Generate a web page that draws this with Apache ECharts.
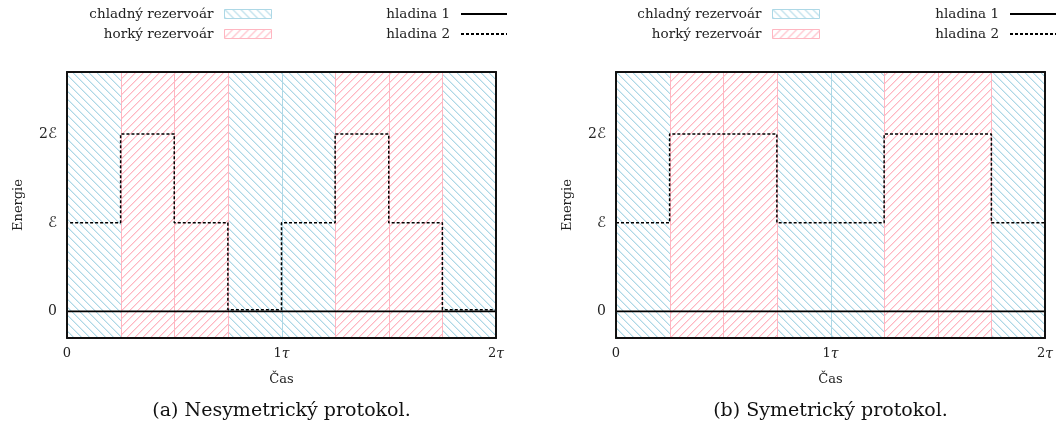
<!DOCTYPE html>
<html>
<head>
<meta charset="utf-8">
<script src="https://cdn.jsdelivr.net/npm/echarts@6/dist/echarts.min.js"></script>
<style>html,body{margin:0;padding:0;background:#fff}#c{width:1064px;height:434px}</style>
</head>
<body>
<div id="c"></div>
<script>
// ---- data ----
const SEG_EDGES = [0, 0.25, 0.5, 0.75, 1, 1.25, 1.5, 1.75, 2];
const LEFT_RESERVOIR = ['c', 'h', 'h', 'c', 'c', 'h', 'h', 'c'];
const RIGHT_RESERVOIR = ['c', 'h', 'h', 'c', 'c', 'h', 'h', 'c'];
const LEFT_LEVEL2 = [1, 2, 1, 0.02, 1, 2, 1, 0.02];
const LEFT_LEVEL2_START = 0.02;
const RIGHT_LEVEL2 = [1, 2, 2, 1, 1, 2, 2, 1];
const LEVEL1 = [0, 0];
const X_TICKS = [0, 1, 2];
const X_TICK_LABELS = ['0', '1τ', '2τ'];
const Y_TICKS = [0, 1, 2];
const Y_TICK_LABELS = ['0', 'ℰ', '2ℰ'];
const NAMES = { cold: 'chladný rezervoár', hot: 'horký rezervoár', l1: 'hladina 1', l2: 'hladina 2' };
const TITLES = ['(a) Nesymetrický protokol.', '(b) Symetrický protokol.'];

// ---- styles ----
const COLD = '#add8e6';
const HOT = '#ffb6c1';
const FONT = 'DejaVu Serif';
const TXT = '#222';

function hatch(color, dir) {
  const s = 8;
  const cv = document.createElement('canvas');
  cv.width = s; cv.height = s;
  const ctx = cv.getContext('2d');
  ctx.fillStyle = color;
  for (let i = 0; i < s; i++) {
    const y = dir === 'down' ? i : s - 1 - i;
    ctx.globalAlpha = 1;
    ctx.fillRect(i, y, 1, 1);
    ctx.globalAlpha = 0.45;
    ctx.fillRect((i + 1) % s, y, 1, 1);
  }
  return { image: cv, repeat: 'repeat' };
}
const COLD_PAT = hatch(COLD, 'down');
const HOT_PAT = hatch(HOT, 'up');

function segData(res, type) {
  const out = [];
  res.forEach((r, i) => { if (r === type) out.push([SEG_EDGES[i], SEG_EDGES[i + 1]]); });
  return out;
}
function stepData(levels, start) {
  const d = [];
  if (start !== undefined) d.push([SEG_EDGES[0], start]);
  levels.forEach((v, i) => d.push([SEG_EDGES[i], v]));
  d.push([SEG_EDGES[SEG_EDGES.length - 1], levels[levels.length - 1]]);
  return d;
}

function renderSeg(pat, col) {
  return function (params, api) {
    const cs = params.coordSys;
    const a = Math.round(api.coord([api.value(0), 0])[0]) + 0.5;
    const b = Math.round(api.coord([api.value(1), 0])[0]) + 0.5;
    return {
      type: 'group',
      children: [
        { type: 'rect', shape: { x: a, y: cs.y, width: b - a, height: cs.height }, style: { fill: pat } },
        { type: 'line', shape: { x1: a, y1: cs.y, x2: a, y2: cs.y + cs.height }, style: { stroke: col, lineWidth: 1 } },
        { type: 'line', shape: { x1: b, y1: cs.y, x2: b, y2: cs.y + cs.height }, style: { stroke: col, lineWidth: 1 } }
      ]
    };
  };
}

const SYM_RICH = {
  s: { fontFamily: 'DejaVu Serif', fontStyle: 'italic', fontSize: 14, color: TXT },
  e: { fontFamily: 'DejaVu Sans', fontStyle: 'italic', fontSize: 15, color: TXT }
};
function richLabel(txt) {
  return txt.replace(/τ/g, '{s|τ}').replace(/ℰ/g, '{e|ℰ}');
}

const grids = [
  { left: 67, top: 72, width: 429, height: 266 },
  { left: 616, top: 72, width: 429, height: 266 }
];

const xAxis = [], yAxis = [], series = [];
const axisLine = { show: true, onZero: false, lineStyle: { color: '#111', width: 2 } };
[0, 1].forEach(g => {
  xAxis.push({
    gridIndex: g, type: 'value', min: 0, max: 2, z: 10,
    name: 'Čas', nameLocation: 'middle', nameGap: 35,
    nameTextStyle: { fontFamily: FONT, fontSize: 13, color: TXT },
    axisLine, axisTick: { show: false }, splitLine: { show: false },
    axisLabel: { customValues: X_TICKS, formatter: v => richLabel(X_TICK_LABELS[X_TICKS.indexOf(v)]), rich: SYM_RICH, fontFamily: FONT, fontSize: 13, color: TXT, margin: 9 }
  });
  xAxis.push({
    gridIndex: g, type: 'value', min: 0, max: 2, position: 'top', z: 10,
    axisLine, axisTick: { show: false }, splitLine: { show: false }, axisLabel: { show: false }
  });
  yAxis.push({
    gridIndex: g, type: 'value', min: -0.3, max: 2.7, z: 10,
    name: 'Energie', nameLocation: 'middle', nameGap: 42, nameRotate: 90,
    nameTextStyle: { fontFamily: FONT, fontSize: 13, color: TXT },
    axisLine, axisTick: { show: false }, splitLine: { show: false },
    axisLabel: { customValues: Y_TICKS, formatter: v => richLabel(Y_TICK_LABELS[Y_TICKS.indexOf(v)]), rich: SYM_RICH, fontFamily: FONT, fontSize: 14, color: TXT, margin: 10 }
  });
  yAxis.push({
    gridIndex: g, type: 'value', min: -0.3, max: 2.7, position: 'right', z: 10,
    axisLine, axisTick: { show: false }, splitLine: { show: false }, axisLabel: { show: false }
  });
  const res = g === 0 ? LEFT_RESERVOIR : RIGHT_RESERVOIR;
  const xi = g * 2, yi = g * 2;
  series.push({
    name: NAMES.cold, type: 'custom', xAxisIndex: xi, yAxisIndex: yi, z: 1,
    itemStyle: { color: COLD_PAT, borderColor: COLD },
    renderItem: renderSeg(COLD_PAT, COLD), data: segData(res, 'c'), encode: { x: [0, 1] }
  });
  series.push({
    name: NAMES.hot, type: 'custom', xAxisIndex: xi, yAxisIndex: yi, z: 1,
    itemStyle: { color: HOT_PAT, borderColor: HOT },
    renderItem: renderSeg(HOT_PAT, HOT), data: segData(res, 'h'), encode: { x: [0, 1] }
  });
  series.push({
    name: NAMES.l1, type: 'line', xAxisIndex: xi, yAxisIndex: yi, z: 5,
    symbol: 'none', lineStyle: { color: '#000', width: 1.6 }, itemStyle: { color: '#000' },
    data: [[SEG_EDGES[0], LEVEL1[0]], [SEG_EDGES[SEG_EDGES.length - 1], LEVEL1[1]]]
  });
  series.push({
    name: NAMES.l2, type: 'line', xAxisIndex: xi, yAxisIndex: yi, z: 6, step: 'end',
    symbol: 'none', lineStyle: { color: '#000', width: 1.5, type: [3, 2] }, itemStyle: { color: '#000' },
    data: g === 0 ? stepData(LEFT_LEVEL2, LEFT_LEVEL2_START) : stepData(RIGHT_LEVEL2)
  });
});

function legendRes(right) {
  return {
    orient: 'vertical', align: 'right', right, top: 7, padding: 0, itemGap: 6,
    itemWidth: 47, itemHeight: 9, selectedMode: false,
    textStyle: { fontFamily: FONT, fontSize: 13.5, color: TXT, padding: [0, 6, 0, 0] },
    data: [
      { name: NAMES.cold, icon: 'rect', itemStyle: { color: COLD_PAT, borderColor: COLD, borderWidth: 1 } },
      { name: NAMES.hot, icon: 'rect', itemStyle: { color: HOT_PAT, borderColor: HOT, borderWidth: 1 } }
    ]
  };
}
function legendLev(right) {
  return {
    orient: 'vertical', align: 'right', right, top: 7, padding: 0, itemGap: 6,
    itemWidth: 46, itemHeight: 9, selectedMode: false,
    textStyle: { fontFamily: FONT, fontSize: 13.5, color: TXT, padding: [0, 6, 0, 0] },
    data: [
      { name: NAMES.l1, itemStyle: { opacity: 0 } },
      { name: NAMES.l2, itemStyle: { opacity: 0 } }
    ]
  };
}

const option = {
  animation: false,
  backgroundColor: '#fff',
  grid: grids,
  xAxis, yAxis, series,
  legend: [legendRes(792), legendLev(556), legendRes(244), legendLev(7)],
  graphic: TITLES.map((t, i) => ({
    type: 'text',
    x: grids[i].left + grids[i].width / 2, y: 411,
    style: { text: t, fontFamily: FONT, fontSize: 19, fill: '#111', align: 'center', verticalAlign: 'middle' }
  }))
};

const chart = echarts.init(document.getElementById('c'), null, { renderer: 'canvas' });
chart.setOption(option);
</script>
</body>
</html>
